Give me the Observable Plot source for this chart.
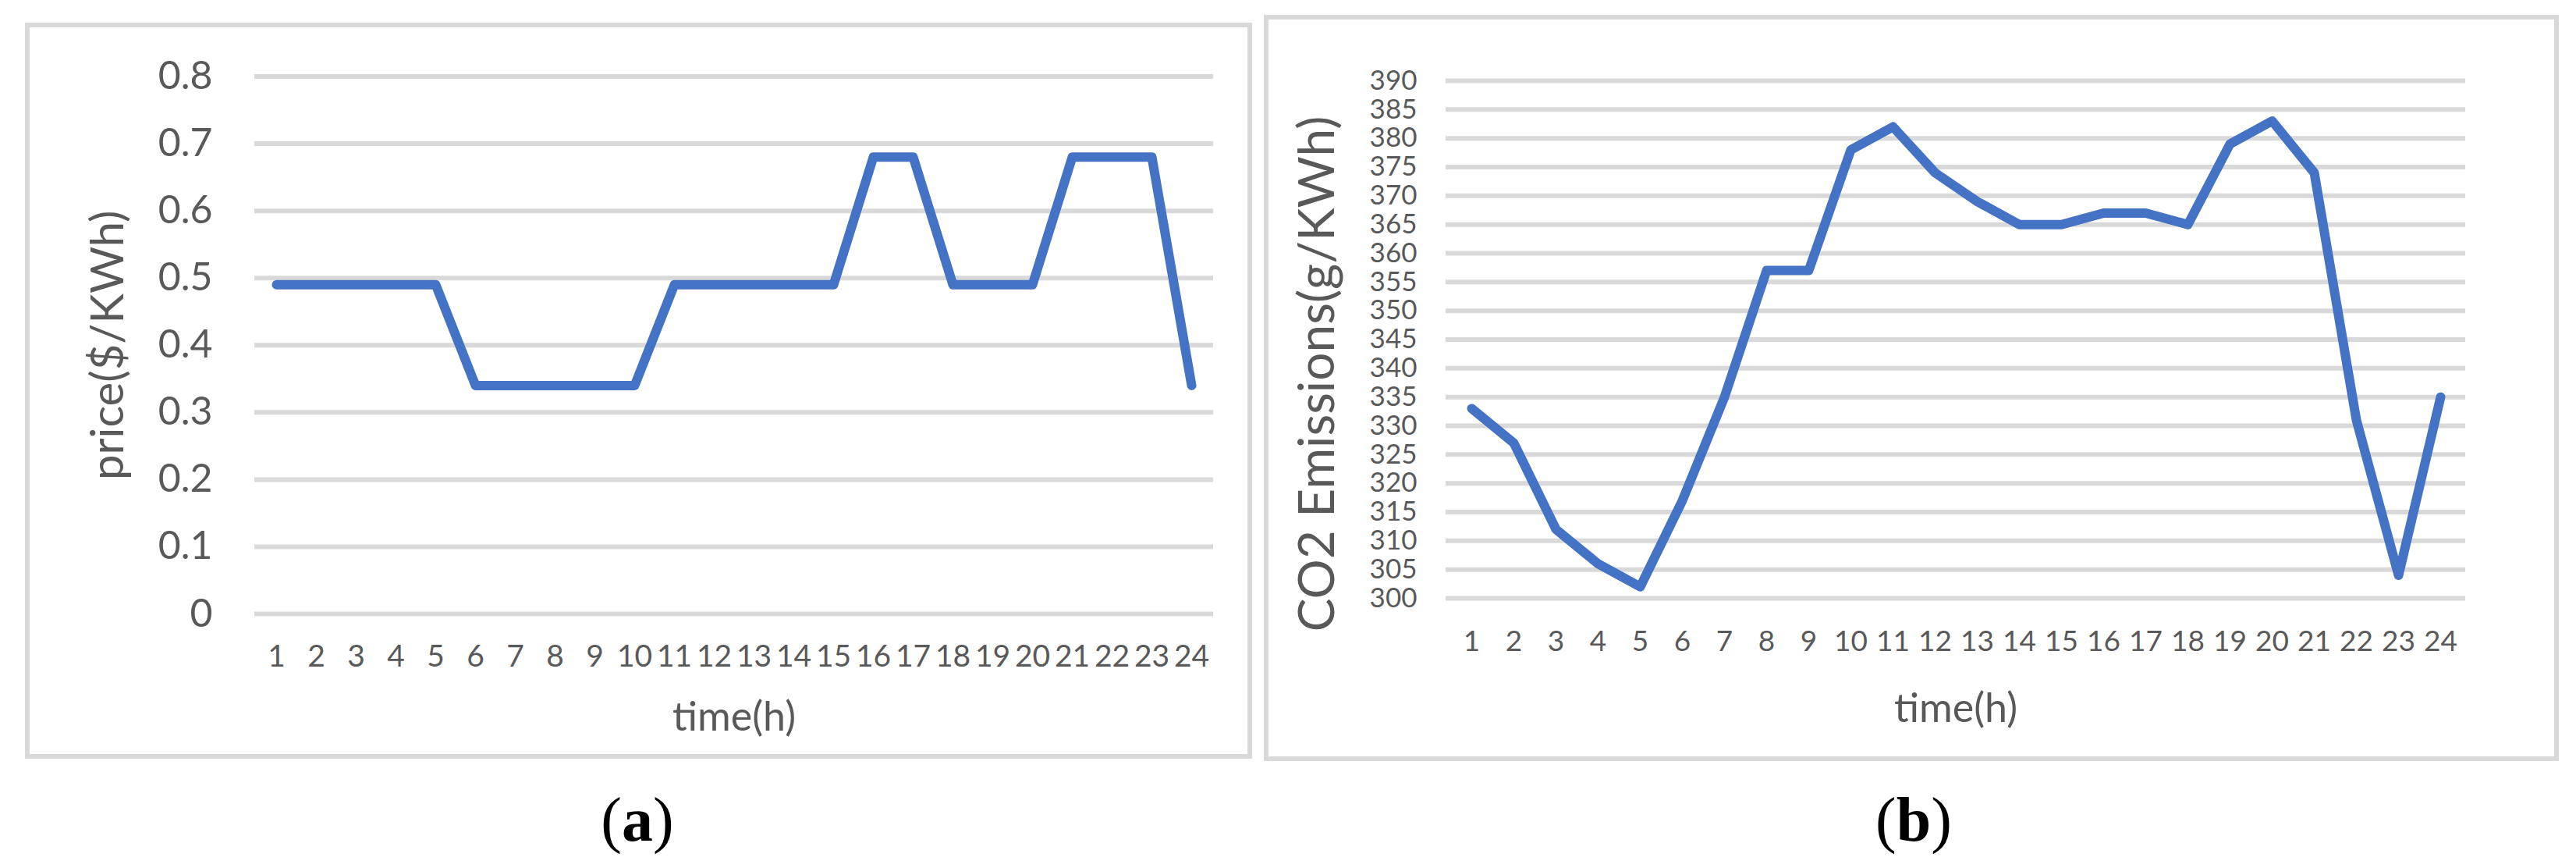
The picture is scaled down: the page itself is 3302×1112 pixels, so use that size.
<!DOCTYPE html>
<html>
<head>
<meta charset="utf-8">
<script src="https://cdn.jsdelivr.net/npm/d3@7"></script>
<script src="https://cdn.jsdelivr.net/npm/@observablehq/plot@0.6"></script>
<style>
  html, body { margin: 0; padding: 0; background: #ffffff; }
  #page { position: relative; width: 3302px; height: 1112px; background: #ffffff; overflow: hidden; }
  .panel { position: absolute; }
  .frame { position: absolute; box-sizing: border-box; border: 6px solid #D9D9D9; pointer-events: none; }
  .cap { position: absolute; font-family: "Liberation Serif", "DejaVu Serif", serif; font-size: 80px; color: #000; transform: translate(-50%, -50%); white-space: nowrap; line-height: 1; }
  .cap b { font-weight: bold; }
</style>
</head>
<body>
<div id="page"></div>
<script>
// ---- data ----
const hours = [1,2,3,4,5,6,7,8,9,10,11,12,13,14,15,16,17,18,19,20,21,22,23,24];
const price = [0.49,0.49,0.49,0.49,0.49,0.34,0.34,0.34,0.34,0.34,0.49,0.49,0.49,0.49,0.49,0.68,0.68,0.49,0.49,0.49,0.68,0.68,0.68,0.34];
const co2 = [333,327,312,306,302,317,335,357,357,378,382,374,369,365,365,367,367,365,379,383,374,331,304,335];
const priceTicks = [0,0.1,0.2,0.3,0.4,0.5,0.6,0.7,0.8];
const co2Ticks = [300,305,310,315,320,325,330,335,340,345,350,355,360,365,370,375,380,385,390];
const xTitle = "time(h)";
const priceTitle = "price($/KWh)";
const co2Title = "CO2 Emissions(g/KWh)";

const priceData = hours.map((h, i) => ({h, v: price[i]}));
const co2Data = hours.map((h, i) => ({h, v: co2[i]}));

const page = document.getElementById("page");
const FONT = "Lato, 'Open Sans', sans-serif";
const TXT = "#595959";
const LINE = "#4472C4";
const GRID = "#D9D9D9";

function addPanel(box, svg) {
  const wrap = document.createElement("div");
  wrap.className = "panel";
  wrap.style.left = box.left + "px";
  wrap.style.top = box.top + "px";
  wrap.appendChild(svg);
  page.appendChild(wrap);
  const fr = document.createElement("div");
  fr.className = "frame";
  fr.style.left = box.left + "px";
  fr.style.top = box.top + "px";
  fr.style.width = box.width + "px";
  fr.style.height = box.height + "px";
  page.appendChild(fr);
}

// ---- panel (a) ----
const boxA = {left: 32, top: 29, width: 1573, height: 943};
const plotA = Plot.plot({
  width: boxA.width,
  height: boxA.height,
  marginLeft: 294,
  marginRight: 50,
  marginTop: 68.5,
  marginBottom: 186,
  style: {fontFamily: FONT, color: TXT, background: "transparent", maxWidth: "none", overflow: "visible"},
  x: {type: "point", domain: hours, padding: 0.5},
  y: {domain: [0, 0.8]},
  marks: [
    Plot.ruleY(priceTicks, {stroke: GRID, strokeWidth: 6}),
    Plot.axisY({ticks: priceTicks, tickFormat: d => String(d), tickSize: 0, tickPadding: 54, fontSize: 50, label: null}),
    Plot.axisX({tickFormat: d => String(d), tickSize: 0, tickPadding: 40, fontSize: 39, label: null}),
    Plot.lineY(priceData, {x: "h", y: "v", stroke: LINE, strokeWidth: 12, strokeLinejoin: "round", strokeLinecap: "round"}),
    Plot.text([xTitle], {frameAnchor: "bottom", dy: 149, fontSize: 52, fill: TXT}),
    Plot.text([priceTitle], {frameAnchor: "left", textAnchor: "middle", dx: -187, rotate: -90, fontSize: 58, fill: TXT})
  ]
});
addPanel(boxA, plotA);

// ---- panel (b) ----
const boxB = {left: 1620, top: 19, width: 1660, height: 956};
const plotB = Plot.plot({
  width: boxB.width,
  height: boxB.height,
  marginLeft: 233,
  marginRight: 120,
  marginTop: 84,
  marginBottom: 209,
  style: {fontFamily: FONT, color: TXT, background: "transparent", maxWidth: "none", overflow: "visible"},
  x: {type: "point", domain: hours, padding: 0.5},
  y: {domain: [300, 390]},
  marks: [
    Plot.ruleY(co2Ticks, {stroke: GRID, strokeWidth: 6}),
    Plot.axisY({ticks: co2Ticks, tickFormat: d => String(d), tickSize: 0, tickPadding: 37, fontSize: 35, label: null}),
    Plot.axisX({tickFormat: d => String(d), tickSize: 0, tickPadding: 41, fontSize: 37, label: null}),
    Plot.lineY(co2Data, {x: "h", y: "v", stroke: LINE, strokeWidth: 12, strokeLinejoin: "round", strokeLinecap: "round"}),
    Plot.text([xTitle], {frameAnchor: "bottom", dy: 158, fontSize: 52, fill: TXT}),
    Plot.text([co2Title], {frameAnchor: "left", textAnchor: "middle", dx: -164, dy: 44, rotate: -90, fontSize: 64, fill: TXT})
  ]
});
addPanel(boxB, plotB);

// ---- captions ----
function addCap(letter, cx, cy) {
  const d = document.createElement("div");
  d.className = "cap";
  d.style.left = cx + "px";
  d.style.top = cy + "px";
  d.innerHTML = "(<b>" + letter + "</b>)";
  page.appendChild(d);
}
addCap("a", 817, 1050);
addCap("b", 2453, 1050);
</script>
</body>
</html>
